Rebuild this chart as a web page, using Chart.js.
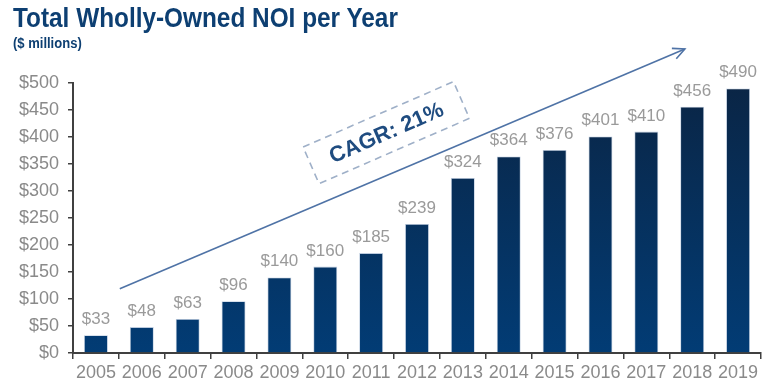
<!DOCTYPE html>
<html><head><meta charset="utf-8">
<script src="https://cdn.jsdelivr.net/npm/chart.js@4.4.1/dist/chart.umd.min.js"></script>
<style>
html,body{margin:0;padding:0;background:#fff;}
#wrap{position:relative;width:783px;height:389px;}
#t1{position:absolute;left:13px;top:0px;font-family:"Liberation Sans",Arial,sans-serif;font-weight:bold;font-size:28px;line-height:36px;color:#0d3f72;white-space:nowrap;transform:scaleX(0.87);transform-origin:0 0;}
#t2{position:absolute;left:13px;top:35px;font-family:"Liberation Sans",Arial,sans-serif;font-weight:bold;font-size:14px;line-height:17px;color:#0d3f72;white-space:nowrap;transform:scaleX(0.93);transform-origin:0 0;}
canvas{position:absolute;left:0;top:0;}
</style></head>
<body><div id="wrap"><canvas id="c" width="783" height="389"></canvas>
<div id="t1">Total Wholly-Owned NOI per Year</div>
<div id="t2">($ millions)</div></div>
<script>
const categories = ["2005","2006","2007","2008","2009","2010","2011","2012","2013","2014","2015","2016","2017","2018","2019"];
const noiValues = [33,48,63,96,140,160,185,239,324,364,376,401,410,456,490];
const yTicks = [0,50,100,150,200,250,300,350,400,450,500];
const cagrLabel = "CAGR: 21%";
// arrow anchors in data space: [category index, value]
const arrowStart = [0.52, 119];
const arrowEnd = [12.84, 563];
const boxCenter = [6.33, 408];

const overlay = {
  id:'overlay',
  afterDatasetsDraw(chart){
    const ctx = chart.ctx, xs = chart.scales.x, ys = chart.scales.y;
    const px = i => xs.getPixelForValue(0) + i*(xs.getPixelForValue(1)-xs.getPixelForValue(0));
    ctx.save();
    ctx.font = '17px "Liberation Sans", Arial, sans-serif';
    ctx.fillStyle = '#9a9a9a';
    ctx.textAlign = 'center'; ctx.textBaseline = 'alphabetic';
    const meta = chart.getDatasetMeta(0);
    meta.data.forEach((b,i)=>{ ctx.fillText('$'+noiValues[i], b.x, b.y-11); });
    // arrow
    const x1=px(arrowStart[0]), y1=ys.getPixelForValue(arrowStart[1]);
    const x2=px(arrowEnd[0]), y2=ys.getPixelForValue(arrowEnd[1]);
    ctx.strokeStyle='#4f73a6'; ctx.lineWidth=1.6;
    ctx.beginPath(); ctx.moveTo(x1,y1); ctx.lineTo(x2,y2); ctx.stroke();
    const a=Math.atan2(y2-y1,x2-x1), L=13, sp=0.45;
    ctx.beginPath();
    ctx.moveTo(x2-L*Math.cos(a-sp), y2-L*Math.sin(a-sp));
    ctx.lineTo(x2,y2);
    ctx.lineTo(x2-L*Math.cos(a+sp), y2-L*Math.sin(a+sp));
    ctx.stroke();
    // box
    const cx=px(boxCenter[0]), cy=ys.getPixelForValue(boxCenter[1]);
    ctx.translate(cx,cy); ctx.rotate(-23.5*Math.PI/180);
    ctx.fillStyle='#fff'; ctx.fillRect(-82,-20,164,40);
    ctx.setLineDash([7,5]); ctx.strokeStyle='#9fb0c8'; ctx.lineWidth=1.6;
    ctx.strokeRect(-82,-20,164,40);
    ctx.setLineDash([]);
    ctx.font='bold 22px "Liberation Sans", Arial, sans-serif';
    ctx.fillStyle='#1f4c80'; ctx.textAlign='center'; ctx.textBaseline='middle';
    ctx.fillText(cagrLabel,0,1);
    ctx.restore();
  }
};

const ctx = document.getElementById('c').getContext('2d');
new Chart(ctx,{
  type:'bar',
  data:{labels:categories,datasets:[{data:noiValues,
    backgroundColor:(c)=>{
      const ch=c.chart; const ca=ch.chartArea; if(!ca) return '#023a70';
      const g=ch.ctx.createLinearGradient(0,ca.top,0,ca.bottom);
      g.addColorStop(0,'#0a2545'); g.addColorStop(1,'#023c75'); return g;
    },
    borderColor:'rgba(120,150,190,0.5)', borderWidth:0.8, borderSkipped:'bottom',
    barPercentage:0.52, categoryPercentage:1}]},
  options:{
    responsive:false, animation:false,
    layout:{padding:{top:83,left:0,right:22,bottom:0}},
    plugins:{legend:{display:false},tooltip:{enabled:false}},
    scales:{
      x:{offset:true,
        grid:{display:true,drawOnChartArea:false,offset:true,tickLength:6,color:'#404040',lineWidth:1.5},
        border:{display:true,color:'#404040',width:2},
        ticks:{font:{size:18,family:'"Liberation Sans", Arial, sans-serif'},color:'#8a8a8a',padding:3,maxRotation:0},
        afterFit(s){s.height=36;}},
      y:{min:0,max:500,
        afterBuildTicks(s){s.ticks=yTicks.map(v=>({value:v}));},
        grid:{display:true,drawOnChartArea:false,tickLength:5,color:'#404040',lineWidth:1.5},
        border:{display:true,color:'#404040',width:2},
        ticks:{font:{size:18,family:'"Liberation Sans", Arial, sans-serif'},color:'#8a8a8a',padding:9,callback:v=>'$'+v},
        afterFit(s){s.width=73;}}
    }
  },
  plugins:[overlay]
});
</script></body></html>
